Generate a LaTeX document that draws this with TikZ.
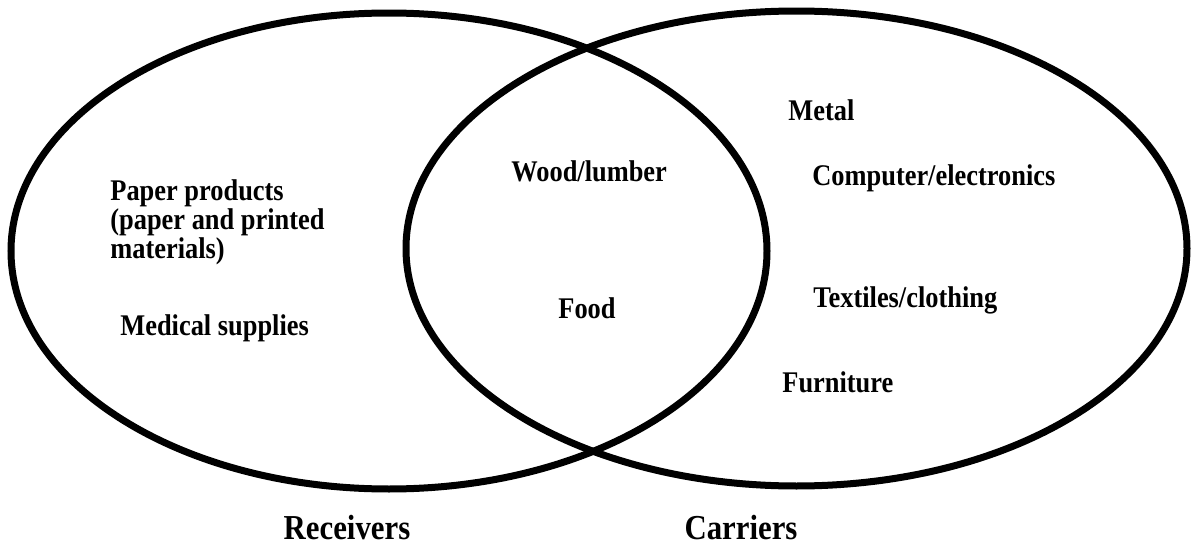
\documentclass[tikz,border=0pt]{standalone}
\usepackage{fontspec}
\setmainfont{Liberation Serif}[FakeStretch=0.88]
\usepackage{tikz}
\usetikzlibrary{positioning}

\begin{document}
\begin{tikzpicture}[
    x=0.5pt, y=-0.5pt,
    every node/.style={font=\fontsize{15}{14.5}\selectfont\bfseries, inner sep=0pt},
    setline/.style ={draw=black, line width=3.5pt},
    item/.style    ={anchor=west, align=left},
    setname/.style ={font=\fontsize{17.5}{19}\selectfont\bfseries}
]
\useasboundingbox (0,0) rectangle (1191,546);
% the two sets
\draw[setline] (389,251) ellipse [x radius=378, y radius=238];
\draw[setline] (796.5,248.5) ellipse [x radius=390.5, y radius=237.5];
% receivers only
\node[item] (paper) at (110,222) {Paper products\\(paper and printed\\materials)};
\node[item] (medical) at (120,328) {Medical supplies};
% both
\node[item] (wood) at (511,171) {Wood/lumber};
\node[item] (food) at (558,308) {Food};
% carriers only
\node[item] (metal) at (788,110) {Metal};
\node[item] (computer) at (812,178) {Computer/electronics};
\node[item] (textiles) at (813,300) {Textiles/clothing};
\node[item] (furniture) at (782,382) {Furniture};
% set names
\node[setname] (receivers) at (347,528) {Receivers};
\node[setname] (carriers) at (741,528) {Carriers};
\end{tikzpicture}
\end{document}
